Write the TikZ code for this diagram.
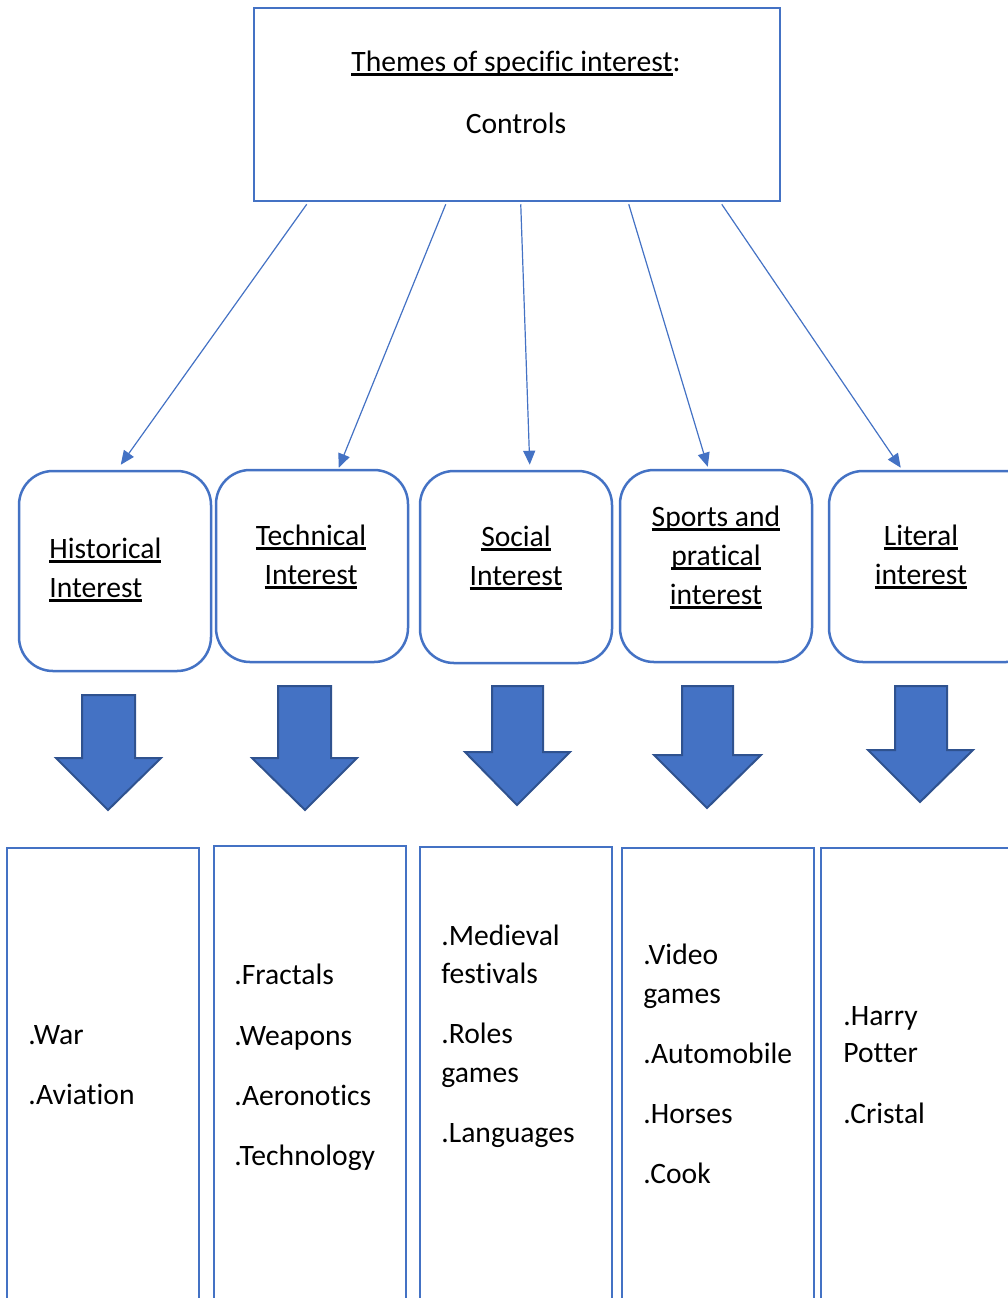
\documentclass[tikz,border=0pt]{standalone}
\usepackage{fontspec}
\setmainfont[Ligatures=NoCommon]{Carlito}
\usetikzlibrary{arrows.meta,fit,calc}
\definecolor{accent}{HTML}{4472C4}
\definecolor{accentdark}{HTML}{2F528F}
% underline at a fixed depth below the baseline
\newcommand\ulword[1]{\setbox0\hbox{#1}\rlap{\rule[-2.4pt]{\wd0}{1.5pt}}\box0}

\begin{document}
\begin{tikzpicture}[x=0.5pt,y=-0.5pt,
  frame/.style={draw=accent, line width=1.25pt, inner sep=0pt},
  topicbox/.style={frame, rounded corners=17pt},
  listbox/.style={frame},
  conn/.style={draw=accent, line width=0.6pt, -{Triangle[length=7pt,width=6pt]}},
  blockarrow/.style={fill=accent, draw=accentdark, line width=1pt, line join=miter},
  txt/.style={inner sep=0pt, font=\fontsize{14.8}{17.8}\selectfont},
  lefttxt/.style={txt, anchor=base west},
  midtxt/.style={txt, anchor=base},
]
\useasboundingbox (0,0) rectangle (1008,1298);
\clip (0,0) rectangle (1008,1298);

% top box
\node[frame, fit={(254,8) (780,201)}] (top) {};
\node[midtxt] (title) at (516,71) {\ulword{Themes of specific interest}:};
\node[midtxt] (ctrl) at (516,133) {Controls};

% topic boxes
\node[topicbox, fit={(19,471) (211,671)}] (hist) {};
\node[topicbox, fit={(216,470) (408,662)}] (tech) {};
\node[topicbox, fit={(420,471) (612,663)}] (soc) {};
\node[topicbox, fit={(620,470) (812,662)}] (sport) {};
\node[topicbox, fit={(829,471) (1040,662)}] (lit) {};

\node[lefttxt] (h1) at (49,558) {\ulword{Historical}};
\node[lefttxt] (h2) at (49,597) {\ulword{Interest}};
\node[midtxt] (t1) at (311,545) {\ulword{Technical}};
\node[midtxt] (t2) at (311,584) {\ulword{Interest}};
\node[midtxt] (s1) at (516,546) {\ulword{Social}};
\node[midtxt] (s2) at (516,585) {\ulword{Interest}};
\node[midtxt] (p1) at (716,526) {\ulword{Sports and}};
\node[midtxt] (p2) at (716,565) {\ulword{pratical}};
\node[midtxt] (p3) at (716,604) {\ulword{interest}};
\node[midtxt] (l1) at (921,545) {\ulword{Literal}};
\node[midtxt] (l2) at (921,584) {\ulword{interest}};

% connectors from the top box
\draw[conn] ($(top.south west)+(54,2)$) -- ($(hist.north west)+(103,-5)$);
\draw[conn] ($(top.south west)+(193,2)$) -- ($(tech.north west)+(124,-1)$);
\draw[conn] ($(top.south west)+(268,2)$) -- ($(soc.north west)+(111,-5)$);
\draw[conn] ($(top.south west)+(376,2)$) -- ($(sport.north west)+(89,-2)$);
\draw[conn] ($(top.south west)+(469,2)$) -- ($(lit.north west)+(73,-2)$);

% block arrows
\draw[blockarrow] (82,695) -- (135,695) -- (135,758) -- (161,758) -- (108,810) -- (56,758) -- (82,758) -- cycle;
\draw[blockarrow] (278,686) -- (331,686) -- (331,758) -- (357,758) -- (305,810) -- (252,758) -- (278,758) -- cycle;
\draw[blockarrow] (492,686) -- (543,686) -- (543,752) -- (570,752) -- (517,805) -- (465,752) -- (492,752) -- cycle;
\draw[blockarrow] (682,686) -- (733,686) -- (733,755) -- (761,755) -- (707,808) -- (654,755) -- (682,755) -- cycle;
\draw[blockarrow] (895,686) -- (947,686) -- (947,750) -- (973,750) -- (920,802) -- (868,750) -- (895,750) -- cycle;

% list boxes
\node[listbox, fit={(7,848) (199,1330)}] (lst1) {};
\node[listbox, fit={(214,846) (406,1330)}] (lst2) {};
\node[listbox, fit={(420,847) (612,1330)}] (lst3) {};
\node[listbox, fit={(622,848) (814,1330)}] (lst4) {};
\node[listbox, fit={(821,848) (1040,1330)}] (lst5) {};

\node[lefttxt] (a1) at (28,1044) {.War};
\node[lefttxt] (a2) at (28,1104) {.Aviation};

\node[lefttxt] (b1) at (234,984) {.Fractals};
\node[lefttxt] (b2) at (234,1045) {.Weapons};
\node[lefttxt] (b3) at (234,1105) {.Aeronotics};
\node[lefttxt] (b4) at (234,1165) {.Technology};

\node[lefttxt] (c1) at (441,945) {.Medieval};
\node[lefttxt] (c2) at (441,983) {festivals};
\node[lefttxt] (c3) at (441,1043) {.Roles};
\node[lefttxt] (c4) at (441,1082) {games};
\node[lefttxt] (c5) at (441,1142) {.Languages};

\node[lefttxt] (d1) at (643,964) {.Video};
\node[lefttxt] (d2) at (643,1003) {games};
\node[lefttxt] (d3) at (643,1063) {.Automobile};
\node[lefttxt] (d4) at (643,1123) {.Horses};
\node[lefttxt] (d5) at (643,1183) {.Cook};

\node[lefttxt] (e1) at (843,1025) {.Harry};
\node[lefttxt] (e2) at (843,1062) {Potter};
\node[lefttxt] (e3) at (843,1123) {.Cristal};
\end{tikzpicture}
\end{document}
